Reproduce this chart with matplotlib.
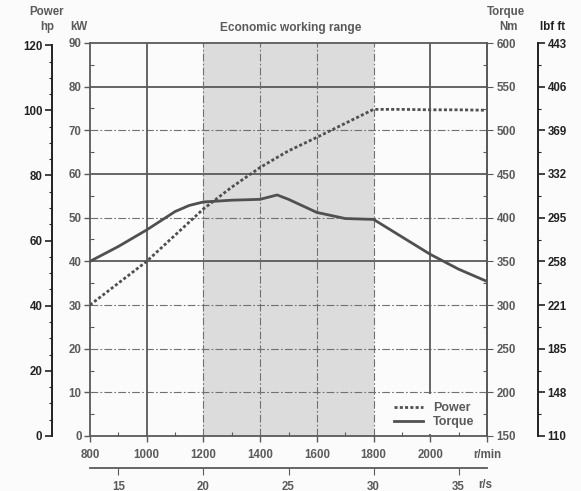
import matplotlib.pyplot as plt
from matplotlib.patches import Rectangle
from matplotlib.ticker import MultipleLocator

# engine speed, r/min
rpm = [800, 900, 1000, 1100, 1150, 1200, 1300, 1400, 1460, 1500, 1600, 1700, 1800,
       1900, 2000, 2100, 2200]
# power, kW (dotted)
power_kw = [30, 35, 40, 46, 49, 52, 57, 61.5, 63.8, 65.3, 68.4, 71.6, 74.8,
            74.8, 74.7, 74.7, 74.6]
# torque, Nm (solid)
torque_nm = [350, 367, 386, 407, 414, 418, 420, 421, 426, 421, 406, 399, 398,
             378, 358, 341, 327]

kw_ticks = [0, 10, 20, 30, 40, 50, 60, 70, 80, 90]
hp_ticks = [0, 20, 40, 60, 80, 100, 120]
nm_ticks = [150, 200, 250, 300, 350, 400, 450, 500, 550, 600]
lbf_labels = ["110", "148", "185", "221", "258", "295", "332", "369", "406", "443"]
rpm_ticks = [800, 1000, 1200, 1400, 1600, 1800, 2000, 2200]
rpm_labels = ["800", "1000", "1200", "1400", "1600", "1800", "2000", "r/min"]
rps_ticks = [15, 20, 25, 30, 35]

solid_kw = [40, 60, 80]
dashdot_kw = [10, 20, 30, 50, 70]
solid_rpm = [1000, 2000]
dashdot_rpm = [1200, 1400, 1600, 1800]
econ_range = (1200, 1800)

plt.rcParams['font.family'] = ['Liberation Sans', 'DejaVu Sans']
plt.rcParams['font.weight'] = 'bold'
plt.rcParams['font.size'] = 8.3

W, H = 581, 491
dark = '#222222'
grey = '#5a5a5a'
lc = '#505050'

fig = plt.figure(figsize=(W / 100, H / 100), dpi=100)
fig.patch.set_facecolor('#fbfbfb')
L, R, B, T = 90, 487, 436, 43
ax = fig.add_axes([L / W, 1 - B / H, (R - L) / W, (B - T) / H])
ax.set_facecolor('#fbfbfb')
ax.set_xlim(800, 2200)
ax.set_ylim(0, 90)

ax.axvspan(*econ_range, color='#dcdcdc', zorder=0, lw=0)
for v in solid_kw:
    ax.axhline(v, color=grey, lw=1.3, zorder=1)
for v in dashdot_kw:
    ax.axhline(v, color='#707070', lw=0.8, ls=(0, (7, 2, 1.5, 2)), zorder=1)
for v in solid_rpm:
    ax.axvline(v, color=grey, lw=1.3, zorder=1)
for v in dashdot_rpm:
    ax.axvline(v, color='#707070', lw=0.8, ls=(0, (7, 2, 1.5, 2)), zorder=1)

# white box behind legend
ax.add_patch(Rectangle((1808, 0.5), 388, 9.1, facecolor='#fbfbfb',
                       edgecolor='none', zorder=1.5))

ax.plot(rpm, power_kw, color=lc, lw=2.0, ls=(0, (1.1, 0.8)), zorder=3,
        label='Power')

for s in ax.spines.values():
    s.set_color(grey)
    s.set_linewidth(1.3)
ax.set_yticks(kw_ticks)
ax.yaxis.set_minor_locator(MultipleLocator(5))
ax.set_xticks(rpm_ticks)
ax.set_xticklabels(rpm_labels)
ax.xaxis.set_minor_locator(MultipleLocator(100))
ax.tick_params(axis='both', which='major', direction='out', length=4,
               color=grey, labelcolor=grey, width=1)
ax.tick_params(axis='y', which='major', pad=2)
ax.tick_params(axis='x', which='major', pad=5)
ax.tick_params(axis='both', which='minor', direction='in', length=3,
               color=grey, width=0.8)

# torque axis (right)
ax_nm = ax.twinx()
ax_nm.set_ylim(150, 600)
ax_nm.plot(rpm, torque_nm, color=lc, lw=2.0, zorder=3, label='Torque')
ax_nm.set_yticks(nm_ticks)
ax_nm.yaxis.set_minor_locator(MultipleLocator(25))
for s in ax_nm.spines.values():
    s.set_visible(False)
ax_nm.spines['right'].set_visible(True)
ax_nm.spines['right'].set_color(grey)
ax_nm.spines['right'].set_linewidth(1.3)
ax_nm.tick_params(axis='y', which='major', direction='out', length=4,
                  color=grey, labelcolor=grey, pad=3)
ax_nm.tick_params(axis='y', which='minor', direction='in', length=3,
                  color=grey, width=0.8)

# hp axis (far left)
ax_hp = ax.twinx()
ax_hp.set_ylim(0, 90 * 1.341)
for s in ax_hp.spines.values():
    s.set_visible(False)
ax_hp.spines['left'].set_visible(True)
ax_hp.spines['left'].set_position(('axes', (52 - L) / (R - L)))
ax_hp.spines['left'].set_bounds(0, 120)
ax_hp.spines['left'].set_color(dark)
ax_hp.spines['left'].set_linewidth(1.4)
ax_hp.yaxis.set_ticks_position('left')
ax_hp.yaxis.set_label_position('left')
ax_hp.set_yticks(hp_ticks)
ax_hp.yaxis.set_minor_locator(MultipleLocator(5))
ax_hp.tick_params(axis='y', which='major', direction='out', length=5,
                  color=dark, labelcolor=dark, pad=2, width=1.2)
ax_hp.tick_params(axis='y', which='minor', direction='out', length=2.5,
                  color=dark, width=0.8)

# lbf ft axis (far right)
ax_lb = ax.twinx()
ax_lb.set_ylim(150, 600)
for s in ax_lb.spines.values():
    s.set_visible(False)
ax_lb.spines['right'].set_visible(True)
ax_lb.spines['right'].set_position(('axes', (538 - L) / (R - L)))
ax_lb.spines['right'].set_color(dark)
ax_lb.spines['right'].set_linewidth(1.4)
ax_lb.set_yticks(nm_ticks)
ax_lb.set_yticklabels(lbf_labels)
ax_lb.yaxis.set_minor_locator(MultipleLocator(25))
ax_lb.tick_params(axis='y', which='major', direction='out', length=5,
                  color=dark, labelcolor=dark, pad=2, width=1.2)
ax_lb.tick_params(axis='y', which='minor', direction='out', length=2.5,
                  color=dark, width=0.8)

# r/s axis (below)
ax_rs = ax.twiny()
ax_rs.set_xlim(800 / 60, 2200 / 60)
for s in ax_rs.spines.values():
    s.set_visible(False)
ax_rs.spines['bottom'].set_visible(True)
ax_rs.spines['bottom'].set_position(('axes', (B - 468) / (B - T)))
ax_rs.spines['bottom'].set_color(grey)
ax_rs.spines['bottom'].set_linewidth(1.3)
ax_rs.xaxis.set_ticks_position('bottom')
ax_rs.set_xticks(rps_ticks)
ax_rs.tick_params(axis='x', direction='out', length=5, color=grey,
                  labelcolor=grey, pad=4)

# legend
h1, l1 = ax.get_legend_handles_labels()
h2, l2 = ax_nm.get_legend_handles_labels()
leg = ax_nm.legend(h1 + h2, l1 + l2, loc='center left', frameon=False,
                   bbox_to_anchor=((383 - L) / (R - L), (B - 415) / (B - T)),
                   handlelength=2.3, handletextpad=0.8, labelspacing=0.15,
                   fontsize=9)
for t in leg.get_texts():
    t.set_color(grey)

def ftext(x, y, s, **kw):
    fig.text(x / W, 1 - y / H, s, ha='center', va='center', **kw)

ftext(47, 12, 'Power', color=grey)
ftext(47, 27, 'hp', color=grey)
ftext(79, 27, 'kW', color=grey)
ftext(291, 28, 'Economic working range', color=grey, fontsize=8.6)
ftext(506, 12, 'Torque', color=grey)
ftext(508, 27, 'Nm', color=grey)
ftext(553, 27, 'lbf ft', color=dark)
ftext(485, 485, 'r/s', color=grey)

fig.savefig('out.png', dpi=100, facecolor=fig.get_facecolor())
